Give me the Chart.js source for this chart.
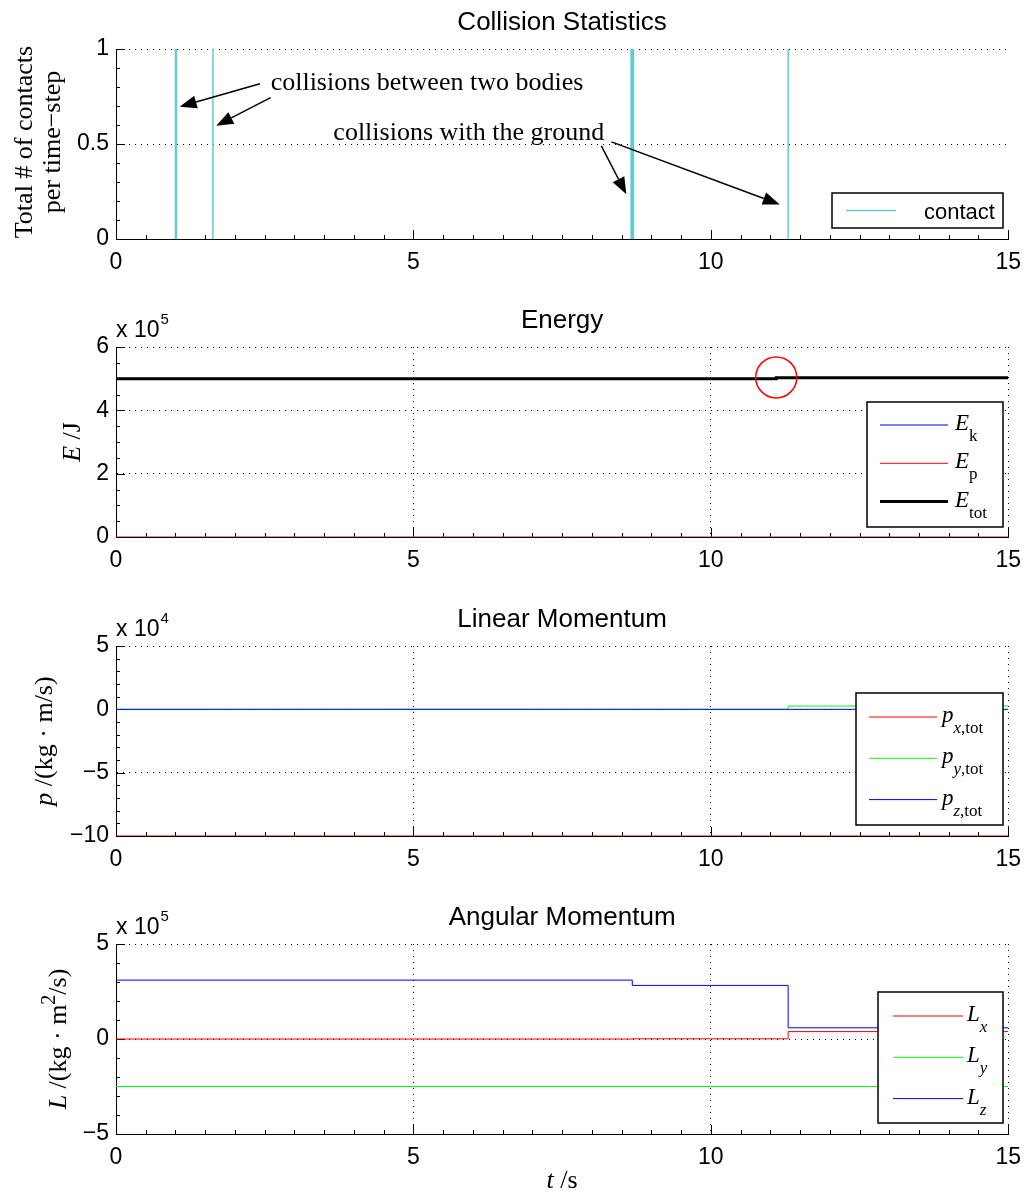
<!DOCTYPE html>
<html>
<head>
<meta charset="utf-8">
<title>Collision Statistics</title>
<script src="https://cdn.jsdelivr.net/npm/chart.js@4.4.1/dist/chart.umd.min.js"></script>
<style>
    html, body { margin: 0; padding: 0; background: #fff; }
    #page { position: relative; width: 1031px; height: 1196px; overflow: hidden; }
    .panel { position: absolute; left: 0; width: 1031px; }
</style>
</head>
<body>
<div id="page">
    <div class="panel" id="panelContact"><canvas id="contactChart"></canvas></div>
    <div class="panel" id="panelEnergy"><canvas id="energyChart"></canvas></div>
    <div class="panel" id="panelLinear"><canvas id="linearChart"></canvas></div>
    <div class="panel" id="panelAngular"><canvas id="angularChart"></canvas></div>
</div>
<script>
// ---- data ----
const timeTicks = [0, 5, 10, 15];

const contactTimes = [1.0, 1.015, 1.63, 8.66, 8.68, 8.70, 11.3];
const contactCounts = [1, 1, 1, 1, 1, 1, 1];
const contactTicks = [0, 0.5, 1];

const energyTime = [0, 11.1, 15];
const energyKin = [5.0e5, 5.03e5, 5.03e5];
const energyPot = [0, 0, 0];
const energyTot = [5.0e5, 5.03e5, 5.03e5];
const energyTicks = [0, 2e5, 4e5, 6e5];

const linearTime = [0, 11.3, 15];
const linearPx = [-1e5, -1e5, -1e5];
const linearPy = [0, 0.26e4, 0.26e4];
const linearPz = [0, 0, 0];
const linearTicks = [-10e4, -5e4, 0, 5e4];

const angularTime = [0, 8.68, 11.3, 15];
const angularLx = [0, 0.01e5, 0.39e5, 0.39e5];
const angularLy = [-2.5e5, -2.5e5, -2.5e5, -2.5e5];
const angularLz = [3.1e5, 2.82e5, 0.59e5, 0.59e5];
const angularTicks = [-5e5, 0, 5e5];

const SANS = '"Liberation Sans", Arial, sans-serif';
const SERIF = '"Liberation Serif", "Times New Roman", serif';
const PLOT_H = 190;

function xy(ts, vs) {
    return ts.map((t, i) => ({ x: t, y: vs[i] }));
}

// vertical spikes, separated by gaps so nothing is drawn along y = 0
function spikes(ts, counts) {
    const pts = [];
    ts.forEach((t, i) => {
        pts.push({ x: t, y: 0 }, { x: t, y: counts[i] }, { x: t, y: null });
    });
    return pts;
}

function runFont(r, size) {
    const s = (r.sub || r.sup) ? Math.round(size * 0.75) : size;
    return (r.it ? 'italic ' : '') + s + 'px ' + (r.sans ? SANS : SERIF);
}

function drawRuns(ctx, runs, x, y, size, align) {
    let w = 0;
    runs.forEach(r => { ctx.font = runFont(r, size); r.w = ctx.measureText(r.t).width; w += r.w; });
    let cx = align === 'center' ? x - w / 2 : x;
    runs.forEach(r => {
        ctx.font = runFont(r, size);
        const dy = r.sub ? size * 0.48 : (r.sup ? -size * 0.42 : 0);
        ctx.fillText(r.t, cx, y + dy);
        cx += r.w;
    });
}

function arrow(ctx, x1, y1, x2, y2) {
    const ang = Math.atan2(y2 - y1, x2 - x1);
    const len = 17, hw = 6.5;
    const bx = x2 - len * Math.cos(ang), by = y2 - len * Math.sin(ang);
    ctx.beginPath();
    ctx.moveTo(x1, y1);
    ctx.lineTo(bx, by);
    ctx.stroke();
    ctx.beginPath();
    ctx.moveTo(x2, y2);
    ctx.lineTo(bx + hw * Math.sin(ang), by - hw * Math.cos(ang));
    ctx.lineTo(bx - hw * Math.sin(ang), by + hw * Math.cos(ang));
    ctx.closePath();
    ctx.fill();
}

// MATLAB-like decorations: inward ticks, title, labels, boxed legend, annotations
const matlabPlugin = {
    id: 'matlab',
    beforeDatasetsDraw(chart, args, o) {
        const { ctx, chartArea: a, scales: { x, y } } = chart;
        ctx.save();
        ctx.strokeStyle = '#000';
        ctx.lineWidth = 1;
        ctx.beginPath();
        x.ticks.forEach(t => {
            const px = Math.round(x.getPixelForValue(t.value)) + 0.5;
            ctx.moveTo(px, a.bottom); ctx.lineTo(px, a.bottom - 9);
        });
        y.ticks.forEach(t => {
            const py = Math.round(y.getPixelForValue(t.value)) + 0.5;
            ctx.moveTo(a.left, py); ctx.lineTo(a.left + 9, py);
        });
        for (let v = x.min; v <= x.max + 1e-9; v += o.xMinor) {
            const px = Math.round(x.getPixelForValue(v)) + 0.5;
            ctx.moveTo(px, a.bottom); ctx.lineTo(px, a.bottom - 4);
        }
        for (let v = y.min; v <= y.max + 1e-9; v += o.yMinor) {
            const py = Math.round(y.getPixelForValue(v)) + 0.5;
            ctx.moveTo(a.left, py); ctx.lineTo(a.left + 4, py);
        }
        ctx.stroke();
        ctx.restore();
    },
    afterDatasetsDraw(chart, args, o) {
        const { ctx, chartArea: a, scales: { x, y } } = chart;
        ctx.save();
        ctx.fillStyle = '#000';
        ctx.strokeStyle = '#000';
        ctx.textBaseline = 'alphabetic';
        ctx.textAlign = 'left';

        // title
        ctx.font = '26px ' + SANS;
        ctx.textAlign = 'center';
        ctx.fillText(o.title, (a.left + a.right) / 2, a.top - 19);
        ctx.textAlign = 'left';

        // axis multiplier
        if (o.exponent) {
            ctx.font = '23px ' + SANS;
            ctx.fillText('x 10', a.left, a.top - 10);
            const w = ctx.measureText('x 10').width;
            ctx.font = '15px ' + SANS;
            ctx.fillText(o.exponent, a.left + w + 1, a.top - 23);
        }

        // y label (rotated)
        ctx.save();
        ctx.translate(0, (a.top + a.bottom) / 2 + (o.ylabelShift || 0));
        ctx.rotate(-Math.PI / 2);
        o.ylabel.forEach(line => drawRuns(ctx, line.runs, 0, line.x, 26, 'center'));
        ctx.restore();

        // x label
        if (o.xlabel) {
            drawRuns(ctx, o.xlabel, (a.left + a.right) / 2, a.bottom + 54, 26, 'center');
        }

        // annotations
        (o.arrows || []).forEach(ar => {
            ctx.lineWidth = 1.5;
            arrow(ctx, x.getPixelForValue(ar.from[0]), y.getPixelForValue(ar.from[1]),
                x.getPixelForValue(ar.to[0]), y.getPixelForValue(ar.to[1]));
        });
        (o.notes || []).forEach(n => {
            ctx.font = '26px ' + SERIF;
            ctx.fillText(n.text, x.getPixelForValue(n.at[0]), y.getPixelForValue(n.at[1]));
        });
        (o.circles || []).forEach(c => {
            ctx.strokeStyle = c.color;
            ctx.lineWidth = 1.5;
            ctx.beginPath();
            ctx.arc(x.getPixelForValue(c.at[0]), y.getPixelForValue(c.at[1]), c.r, 0, Math.PI * 2);
            ctx.stroke();
        });

        // legend box
        const L = o.legend;
        const top = a.top + L.y;
        ctx.fillStyle = '#fff';
        ctx.fillRect(L.x, top, L.w, L.h);
        ctx.strokeStyle = '#000';
        ctx.lineWidth = 1.5;
        ctx.strokeRect(L.x, top, L.w, L.h);
        L.items.forEach((it, i) => {
            const ds = chart.data.datasets[it.ds];
            const ry = top + L.row0 + i * L.gap;
            ctx.strokeStyle = ds.borderColor;
            ctx.lineWidth = ds.borderWidth;
            ctx.beginPath();
            ctx.moveTo(L.x + L.line[0], ry);
            ctx.lineTo(L.x + L.line[1], ry);
            ctx.stroke();
            ctx.fillStyle = '#000';
            drawRuns(ctx, it.runs, L.x + L.text, ry + (it.runs[0].sans ? 8 : 5), L.size, 'left');
        });
        ctx.restore();
    }
};

function makeChart(canvasId, panelId, p) {
    const panel = document.getElementById(panelId);
    const canvasTop = Math.max(0, p.plotTop - 60);
    const padTop = p.plotTop - canvasTop;
    panel.style.top = canvasTop + 'px';
    panel.style.height = (padTop + PLOT_H + p.bottom) + 'px';

    // MATLAB plots later series on top; Chart.js puts lower "order" on top
    p.datasets.forEach((ds, i) => { ds.order = p.datasets.length - i; });

    const tickFont = { family: SANS, size: 23 };
    const ctx = document.getElementById(canvasId).getContext('2d');
    return new Chart(ctx, {
        type: 'line',
        data: { datasets: p.datasets },
        plugins: [matlabPlugin],
        options: {
            responsive: true,
            maintainAspectRatio: false,
            animation: false,
            layout: { padding: { top: padTop, right: 16, left: 0, bottom: 0 } },
            elements: { point: { radius: 0 }, line: { tension: 0 } },
            scales: {
                x: {
                    type: 'linear',
                    min: 0,
                    max: 15,
                    afterBuildTicks: s => { s.ticks = timeTicks.map(v => ({ value: v })); },
                    afterFit: s => { s.height = p.bottom; },
                    grid: { display: p.xGrid, color: '#000', lineWidth: 1, drawTicks: false },
                    border: { color: '#000', width: 1, dash: [1, 5] },
                    ticks: { color: '#000', font: tickFont, padding: 10, maxRotation: 0 }
                },
                y: {
                    type: 'linear',
                    min: p.yTicks[0],
                    max: p.yTicks[p.yTicks.length - 1],
                    afterBuildTicks: s => { s.ticks = p.yTicks.map(v => ({ value: v })); },
                    afterFit: s => { s.width = 116; },
                    grid: { color: '#000', lineWidth: 1, drawTicks: false },
                    border: { color: '#000', width: 1, dash: [1, 5] },
                    ticks: {
                        color: '#000',
                        font: tickFont,
                        padding: 7,
                        callback: v => String(Math.round(v / p.factor * 10) / 10).replace('-', '\u2212')
                    }
                }
            },
            plugins: {
                legend: { display: false },
                tooltip: { enabled: false },
                matlab: p.decor
            }
        }
    });
}

document.addEventListener('DOMContentLoaded', function() {
    makeChart('contactChart', 'panelContact', {
        plotTop: 49, bottom: 50, xGrid: false, yTicks: contactTicks, factor: 1,
        datasets: [{
            label: 'contact',
            data: spikes(contactTimes, contactCounts),
            borderColor: 'rgb(95, 205, 205)',
            borderWidth: 1.5,
            spanGaps: false
        }],
        decor: {
            title: 'Collision Statistics',
            xMinor: 0.5, yMinor: 0.1,
            ylabel: [
                { x: 32, runs: [{ t: 'Total # of contacts' }] },
                { x: 60, runs: [{ t: 'per time\u2212step' }] }
            ],
            ylabelShift: -2,
            arrows: [
                { from: [2.42, 0.817], to: [1.07, 0.696] },
                { from: [2.60, 0.744], to: [1.685, 0.596] },
                { from: [8.16, 0.49], to: [8.58, 0.235] },
                { from: [8.33, 0.511], to: [11.16, 0.182] }
            ],
            notes: [
                { text: 'collisions between two bodies', at: [2.60, 0.784] },
                { text: 'collisions with the ground', at: [3.654, 0.521] }
            ],
            legend: {
                x: 832, y: 144, w: 171, h: 35, row0: 17.5, gap: 0,
                line: [14, 64], text: 92, size: 22,
                items: [{ ds: 0, runs: [{ t: 'contact', sans: true }] }]
            }
        }
    });

    makeChart('energyChart', 'panelEnergy', {
        plotTop: 347, bottom: 50, xGrid: true, yTicks: energyTicks, factor: 1e5,
        datasets: [
            { label: 'E_k', data: xy(energyTime, energyKin), borderColor: '#0000ff', borderWidth: 1, stepped: true },
            { label: 'E_p', data: xy(energyTime, energyPot), borderColor: '#ff0000', borderWidth: 1, stepped: true },
            { label: 'E_tot', data: xy(energyTime, energyTot), borderColor: '#000000', borderWidth: 3, stepped: true }
        ],
        decor: {
            title: 'Energy',
            exponent: '5',
            xMinor: 0.5, yMinor: 0.5e5,
            ylabel: [{ x: 80, runs: [{ t: 'E', it: true }, { t: ' /J' }] }],
            circles: [{ at: [11.1, 5.04e5], r: 20.5, color: '#ff0000' }],
            legend: {
                x: 867, y: 55, w: 136, h: 125, row0: 23, gap: 38.3,
                line: [13, 81], text: 88, size: 23,
                items: [
                    { ds: 0, runs: [{ t: 'E', it: true }, { t: 'k', sub: true }] },
                    { ds: 1, runs: [{ t: 'E', it: true }, { t: 'p', sub: true }] },
                    { ds: 2, runs: [{ t: 'E', it: true }, { t: 'tot', sub: true }] }
                ]
            }
        }
    });

    makeChart('linearChart', 'panelLinear', {
        plotTop: 646, bottom: 50, xGrid: true, yTicks: linearTicks, factor: 1e4,
        datasets: [
            { label: 'p_x,tot', data: xy(linearTime, linearPx), borderColor: '#ff0000', borderWidth: 1, stepped: true },
            { label: 'p_y,tot', data: xy(linearTime, linearPy), borderColor: '#00ff00', borderWidth: 1, stepped: true },
            { label: 'p_z,tot', data: xy(linearTime, linearPz), borderColor: '#0000ff', borderWidth: 1, stepped: true }
        ],
        decor: {
            title: 'Linear Momentum',
            exponent: '4',
            xMinor: 0.5, yMinor: 1e4,
            ylabel: [{ x: 52, runs: [{ t: 'p', it: true }, { t: ' /(kg \u00b7 m/s)' }] }],
            legend: {
                x: 856, y: 47, w: 147, h: 132, row0: 24, gap: 41.3,
                line: [13, 81], text: 86, size: 23,
                items: [
                    { ds: 0, runs: [{ t: 'p', it: true }, { t: 'x', sub: true, it: true }, { t: ',tot', sub: true }] },
                    { ds: 1, runs: [{ t: 'p', it: true }, { t: 'y', sub: true, it: true }, { t: ',tot', sub: true }] },
                    { ds: 2, runs: [{ t: 'p', it: true }, { t: 'z', sub: true, it: true }, { t: ',tot', sub: true }] }
                ]
            }
        }
    });

    makeChart('angularChart', 'panelAngular', {
        plotTop: 944, bottom: 72, xGrid: true, yTicks: angularTicks, factor: 1e5,
        datasets: [
            { label: 'L_x', data: xy(angularTime, angularLx), borderColor: '#ff0000', borderWidth: 1, stepped: true },
            { label: 'L_y', data: xy(angularTime, angularLy), borderColor: '#00ff00', borderWidth: 1, stepped: true },
            { label: 'L_z', data: xy(angularTime, angularLz), borderColor: '#0000ff', borderWidth: 1, stepped: true }
        ],
        decor: {
            title: 'Angular Momentum',
            exponent: '5',
            xMinor: 0.5, yMinor: 1e5,
            ylabel: [{ x: 66, runs: [{ t: 'L', it: true }, { t: ' /(kg \u00b7 m' }, { t: '2', sup: true }, { t: '/s)' }] }],
            xlabel: [{ t: 't', it: true }, { t: ' /s' }],
            legend: {
                x: 878, y: 48, w: 125, h: 131, row0: 24, gap: 41.3,
                line: [15, 85], text: 89, size: 23,
                items: [
                    { ds: 0, runs: [{ t: 'L', it: true }, { t: 'x', sub: true, it: true }] },
                    { ds: 1, runs: [{ t: 'L', it: true }, { t: 'y', sub: true, it: true }] },
                    { ds: 2, runs: [{ t: 'L', it: true }, { t: 'z', sub: true, it: true }] }
                ]
            }
        }
    });
});
</script>
</body>
</html>
